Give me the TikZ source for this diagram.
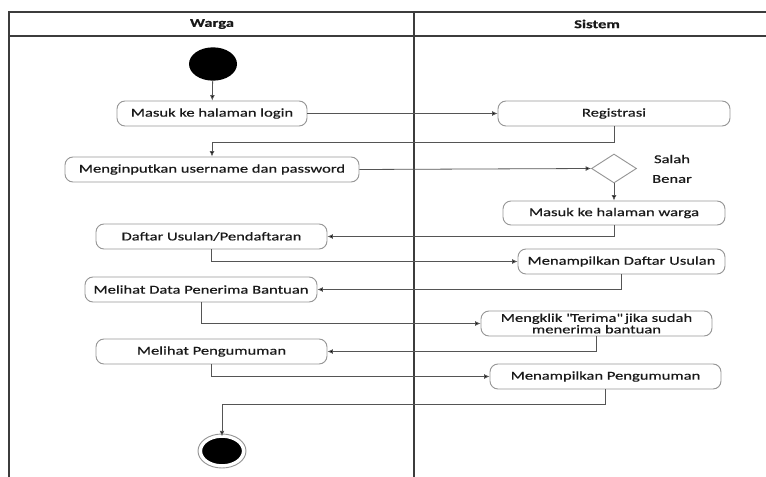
\documentclass[tikz,border=0pt]{standalone}
\usepackage{fontspec}
\setmainfont{Carlito}[FakeStretch=1.38,FakeBold=0.6]
\usetikzlibrary{arrows.meta,shapes.geometric}

\definecolor{laneline}{RGB}{60,60,60}
\definecolor{boxline}{RGB}{150,150,150}
\definecolor{flowline}{RGB}{85,85,85}
\definecolor{txt}{RGB}{25,25,25}

\tikzset{every picture/.style={line width=0.75pt}}
\tikzset{
	lane/.style={draw=laneline, line width=1.6pt},
	act/.style={draw=boxline, line width=0.7pt, rounded corners=6pt, minimum height=18.75pt, inner sep=1pt, align=center, text=txt, font=\fontsize{9}{8.6}\selectfont},
	decide/.style={draw=boxline, line width=0.7pt, diamond, minimum width=33.75pt, minimum height=21.75pt, inner sep=0pt},
	startpt/.style={ellipse, fill=black, minimum width=36pt, minimum height=25pt, inner sep=0pt},
	endpt/.style={ellipse, fill=black, draw=white, line width=1.2pt, minimum width=31pt, minimum height=21pt, inner sep=0pt},
	flow/.style={draw=flowline, line width=0.6pt, -{Latex[length=4pt,width=3.6pt,fill=black]}},
	lbl/.style={text=txt, font=\fontsize{9}{10}\selectfont},
	head/.style={text=txt, font=\fontsize{9}{10}\selectfont\bfseries}
}

\begin{document}
\begin{tikzpicture}[x=0.75pt,y=0.75pt,yscale=-1,xscale=1]
	\useasboundingbox (0,0) rectangle (766,477);

	%Swimlanes
	\draw [lane] (9,477) -- (9,12) -- (766,12) ;
	\draw [lane] (9,36) -- (766,36) ;
	\draw [lane] (414,12) -- (414,477) ;
	\node [head] (warga) at (212,24) {Warga};
	\node [head] (sistem) at (597,24) {Sistem};

	%Start and end
	\node [startpt] (start) at (213,64) {};
	\draw [boxline, line width=0.7pt] (222,451) ellipse (24 and 17);
	\node [endpt] (end) at (222,451) {};

	%Warga
	\node [act, minimum width=142.5pt] (login) at (212,113.5) {Masuk ke halaman login};
	\node [act, minimum width=220.5pt] (input) at (212,169.5) {Menginputkan username dan password};
	\node [act, minimum width=173.25pt] (daftar) at (211.5,236.5) {Daftar Usulan/Pendaftaran};
	\node [act, minimum width=174pt] (penerima) at (201,289.5) {Melihat Data Penerima Bantuan};
	\node [act, minimum width=173.25pt] (lihat) at (211.5,351.5) {Melihat Pengumuman};

	%Sistem
	\node [act, minimum width=174pt] (registrasi) at (614,113.5) {Registrasi};
	\node [decide] (cek) at (614,168.5) {};
	\node [lbl] (salah) at (672,159) {Salah};
	\node [lbl] (benar) at (672,179) {Benar};
	\node [act, minimum width=166.5pt, minimum height=18pt] (halwarga) at (614,213) {Masuk ke halaman warga};
	\node [act, minimum width=155.25pt] (tampildaftar) at (621.5,261.5) {Menampilkan Daftar Usulan};
	\node [act, minimum width=173.25pt] (terima) at (596.5,323.5) {Mengklik \textquotedbl Terima\textquotedbl{} jika sudah\\menerima bantuan};
	\node [act, minimum width=173.25pt] (tampilumum) at (605.5,376.5) {Menampilkan Pengumuman};

	%Flows
	\draw [flow] (start) -- (login);
	\draw [flow] (login) -- (registrasi);
	\draw [flow] (registrasi.south) -- ++(0,16) -| (input.north);
	\draw [flow] (input.east) -- (cek.west);
	\draw [flow] (cek) -- (halwarga);
	\draw [flow] (halwarga.south) |- (daftar.east);
	\draw [flow] (daftar.south) |- (tampildaftar.west);
	\draw [flow] (tampildaftar.south) |- (penerima.east);
	\draw [flow] (penerima.south) |- (terima.west);
	\draw [flow] (terima.south) |- (lihat.east);
	\draw [flow] (lihat.south) |- (tampilumum.west);
	\draw [flow] (tampilumum.south) -- ++(0,15) -| (end.north);

\end{tikzpicture}
\end{document}
